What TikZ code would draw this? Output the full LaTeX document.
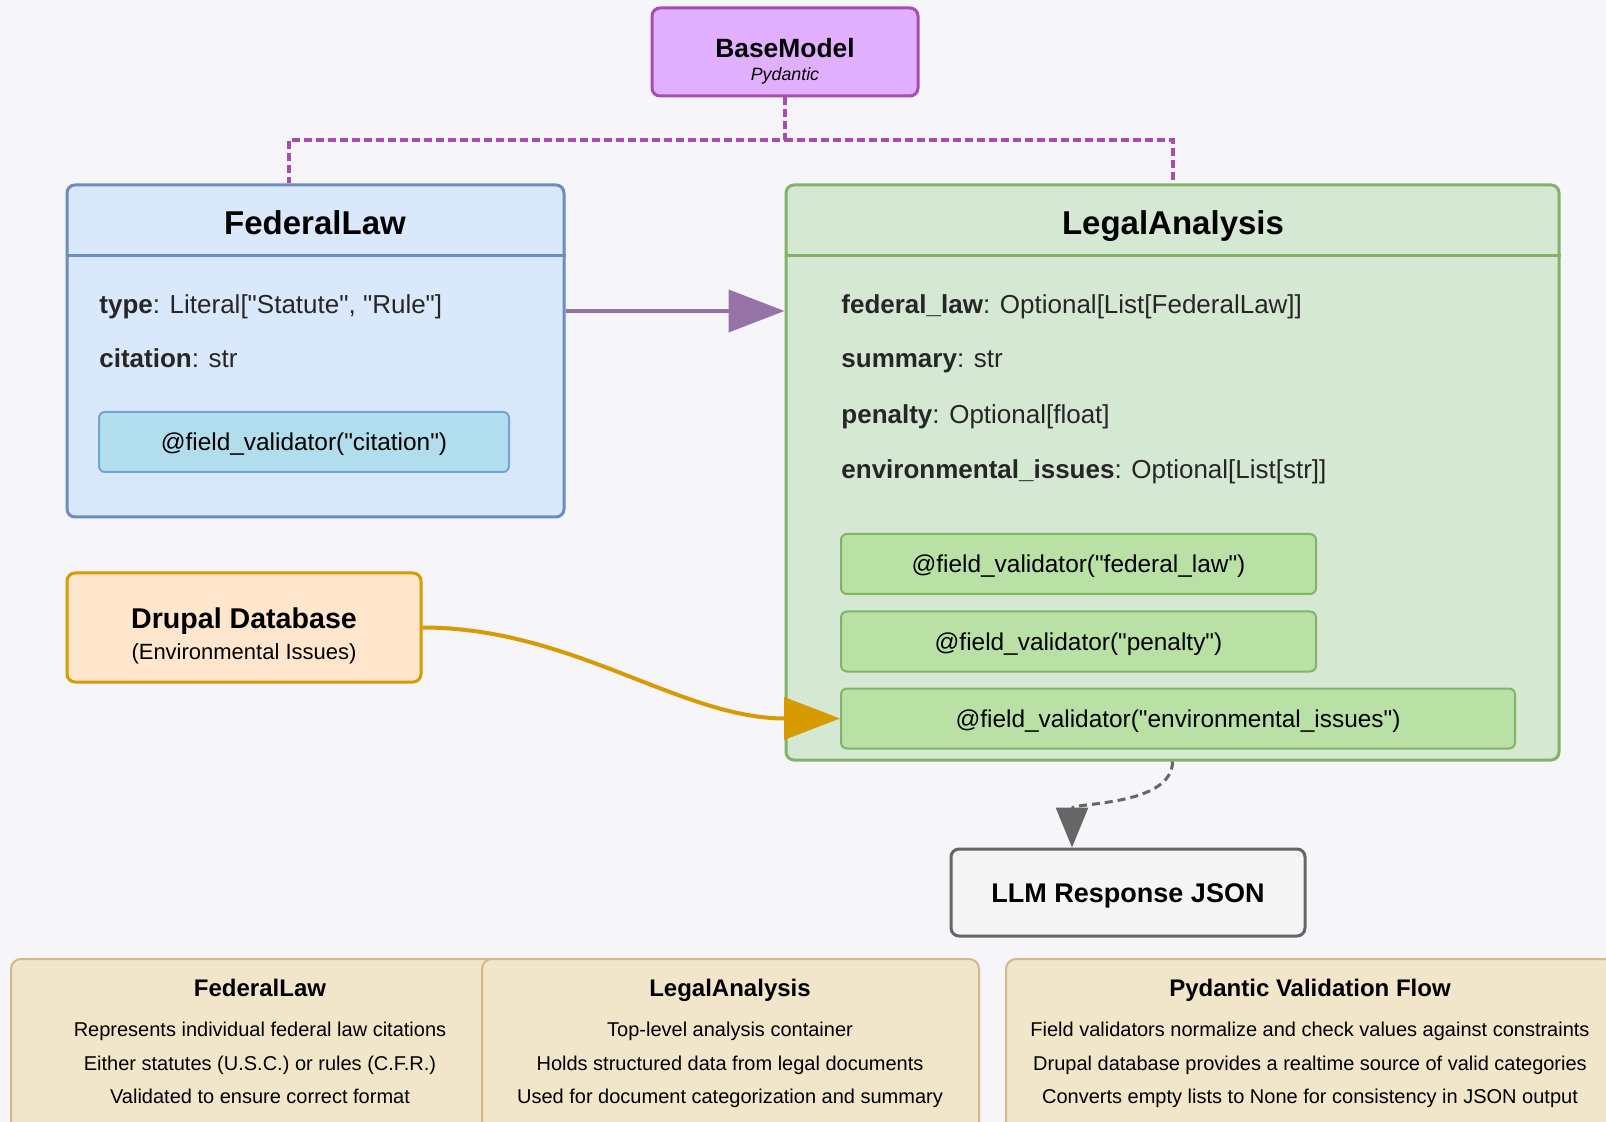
\documentclass[tikz,border=0pt]{standalone}
\usepackage{fontspec}
\setmainfont{Liberation Sans}[Ligatures=TeXOff]
\usetikzlibrary{arrows.meta,positioning,calc}

\definecolor{bgcol}{RGB}{245,245,250}
\definecolor{basefill}{RGB}{224,176,255}
\definecolor{basedraw}{RGB}{168,76,176}
\definecolor{fedfill}{RGB}{218,232,252}
\definecolor{feddraw}{RGB}{108,142,191}
\definecolor{fedvalfill}{RGB}{177,221,236}
\definecolor{fedvaldraw}{RGB}{112,166,214}
\definecolor{legfill}{RGB}{213,232,212}
\definecolor{legdraw}{RGB}{130,179,102}
\definecolor{legvalfill}{RGB}{185,224,165}
\definecolor{drupfill}{RGB}{255,230,204}
\definecolor{drupdraw}{RGB}{215,155,0}
\definecolor{llmfill}{RGB}{245,245,245}
\definecolor{llmdraw}{RGB}{102,102,102}
\definecolor{notefill}{RGB}{241,229,202}
\definecolor{notedraw}{RGB}{214,183,140}
\definecolor{linkpurple}{RGB}{150,115,166}

\begin{document}
\begin{tikzpicture}[x=0.5pt, y=-0.5pt,
    classbox/.style={draw, line width=1.5pt, rounded corners=4pt},
    valbox/.style={draw, line width=1pt, rounded corners=3pt, minimum height=30pt,
        text height=8.8pt, text depth=0pt, font=\fontsize{12.2}{14}\selectfont},
    field/.style={anchor=west, inner sep=0pt, text=black!85, text height=9.3pt, text depth=0pt,
        font=\fontsize{13}{16}\selectfont},
    classtitle/.style={text height=11.8pt, text depth=0pt, font=\fontsize{16.5}{20}\selectfont\bfseries},
    notebox/.style={draw=notedraw, fill=notefill, line width=1pt, rounded corners=5pt,
        minimum height=100pt},
    notetitle/.style={text height=8.6pt, text depth=0pt, font=\fontsize{12}{14}\selectfont\bfseries},
    notebody/.style={align=center, text height=40.8pt, text depth=0pt,
        font=\fontsize{10}{16.8}\selectfont},
    inherit/.style={basedraw, line width=2pt, dash pattern=on 4pt off 2pt}]

    % background
    \fill[bgcol] (0,0) rectangle (1606,1122);
    \useasboundingbox (0,0) rectangle (1606,1122);

    % base class
    \node (base) [classbox, draw=basedraw, fill=basefill, minimum width=133pt, minimum height=44pt]
        at (785,52) {};
    \node (basename) [text height=9.5pt, text depth=0pt, font=\fontsize{13.2}{15}\selectfont\bfseries]
        at (785,48) {BaseModel};
    \node (basepkg) [text height=6.4pt, text depth=0pt, font=\fontsize{8.9}{10}\selectfont\itshape]
        at (785,74) {Pydantic};

    % FederalLaw class
    \node (fedlaw) [classbox, draw=feddraw, fill=fedfill, minimum width=248.5pt, minimum height=166pt]
        at (315.5,351) {};
    \draw[feddraw, line width=1.5pt] ([yshift=-36pt]fedlaw.north west) -- ([yshift=-36pt]fedlaw.north east);
    \node (fedtitle) [classtitle] at (315,223) {FederalLaw};
    \node (fedtype) [field] at (99,304) {\textbf{type}: Literal["Statute", "Rule"]};
    \node (fedcite) [field] at (99,358) {\textbf{citation}: str};
    \node (fedval) [valbox, draw=fedvaldraw, fill=fedvalfill, minimum width=205pt] at (304,442)
        {@field\_validator("citation")};

    % LegalAnalysis class
    \node (legal) [classbox, draw=legdraw, fill=legfill, minimum width=386.5pt, minimum height=287.5pt]
        at (1172.5,472.5) {};
    \draw[legdraw, line width=1.5pt] ([yshift=-36pt]legal.north west) -- ([yshift=-36pt]legal.north east);
    \node (legtitle) [classtitle] at (1173,223) {LegalAnalysis};
    \node (legfed) [field] at (841,304) {\textbf{federal\_law}: Optional[List[FederalLaw]]};
    \node (legsum) [field] at (841,358) {\textbf{summary}: str};
    \node (legpen) [field] at (841,414) {\textbf{penalty}: Optional[float]};
    \node (legenv) [field] at (841,469) {\textbf{environmental\_issues}: Optional[List[str]]};
    \node (legvalfed) [valbox, draw=legdraw, fill=legvalfill, minimum width=237.5pt] at (1078.5,564)
        {@field\_validator("federal\_law")};
    \node (legvalpen) [valbox, draw=legdraw, fill=legvalfill, minimum width=237.5pt] at (1078.5,641.5)
        {@field\_validator("penalty")};
    \node (legvalenv) [valbox, draw=legdraw, fill=legvalfill, minimum width=337pt] at (1178,718.5)
        {@field\_validator("environmental\_issues")};

    % data source and output
    \node (drupal) [classbox, draw=drupdraw, fill=drupfill, minimum width=177pt, minimum height=54.5pt]
        at (244,627.5) {};
    \node (drupalname) [text height=10.3pt, text depth=0pt, font=\fontsize{14.3}{16}\selectfont\bfseries]
        at (244,618) {Drupal Database};
    \node (drupalnote) [text height=7.9pt, text depth=0pt, font=\fontsize{11}{13}\selectfont]
        at (244,652) {(Environmental Issues)};
    \node (llm) [classbox, draw=llmdraw, fill=llmfill, minimum width=177pt, minimum height=43.5pt,
        text height=9.7pt, text depth=0pt, font=\fontsize{13.5}{16}\selectfont\bfseries]
        at (1128,892.5) {LLM Response JSON};

    % inheritance
    \coordinate (joint) at (785,140);
    \draw[inherit] (base.south) -- (joint) -| ([xshift=-13.5pt]fedlaw.north);
    \draw[inherit] (joint) -| (legal.north);

    % links
    \draw[linkpurple, line width=2pt, -{Triangle[length=28pt, width=21pt]}]
        ([yshift=20pt]fedlaw.east) -- ([yshift=20pt]fedlaw.east -| legal.west);
    \draw[drupdraw, line width=2pt, -{Triangle[length=28pt, width=21pt]}]
        (drupal.east) .. controls +(150,0) and +(-160,0) .. (legvalenv.west);
    \draw[llmdraw, line width=1.5pt, dash pattern=on 4pt off 2.5pt, -{Triangle[length=20pt, width=16pt]}]
        (legal.south) .. controls +(0,45) and +(0,-45) .. ([xshift=-28pt]llm.north);

    % notes
    \node (note1) [notebox, minimum width=249pt] at (260,1059) {};
    \node (note2) [notebox, minimum width=248.5pt] at (730.5,1059) {};
    \node (note3) [notebox, minimum width=304pt] at (1310,1059) {};
    \node (note1title) [notetitle] at (260,988) {FederalLaw};
    \node (note1body) [notebody] at (260,1063)
        {Represents individual federal law citations\\Either statutes (U.S.C.) or rules (C.F.R.)\\Validated to ensure correct format};
    \node (note2title) [notetitle] at (730,988) {LegalAnalysis};
    \node (note2body) [notebody] at (730,1063)
        {Top-level analysis container\\Holds structured data from legal documents\\Used for document categorization and summary};
    \node (note3title) [notetitle] at (1310,988) {Pydantic Validation Flow};
    \node (note3body) [notebody] at (1310,1063)
        {Field validators normalize and check values against constraints\\Drupal database provides a realtime source of valid categories\\Converts empty lists to None for consistency in JSON output};
\end{tikzpicture}
\end{document}
